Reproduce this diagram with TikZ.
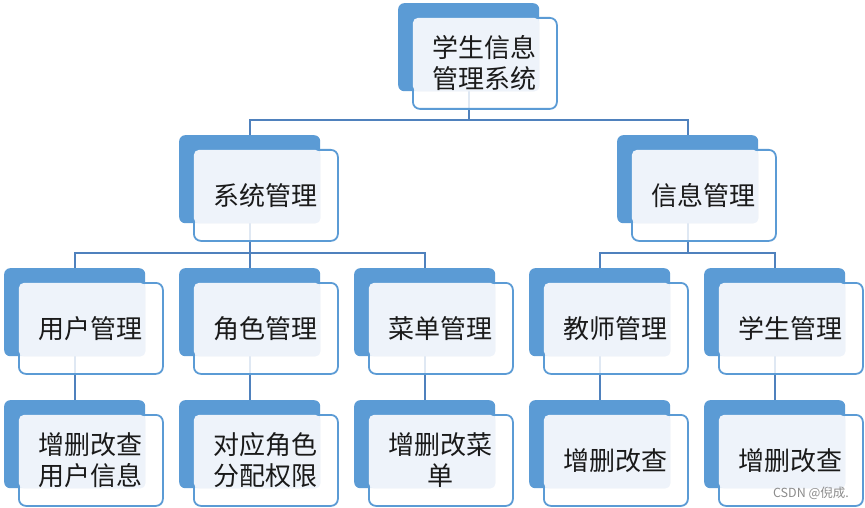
\documentclass[tikz,border=0pt]{standalone}
\usepackage{fontspec}
\newfontfamily\cjk{Noto Sans CJK SC}
\usetikzlibrary{backgrounds}
\definecolor{backblue}{HTML}{5B9BD5}
\definecolor{lightfill}{HTML}{EEF3FA}
\definecolor{connblue}{HTML}{4F81BD}
\definecolor{txtcol}{HTML}{1A1A1A}
\tikzset{
  backbox/.style={draw=none, fill=backblue, rounded corners=6pt, minimum width=141pt, minimum height=88pt, inner sep=0pt, anchor=north west},
  frontbox/.style={draw=backblue, line width=1.8pt, fill=white, fill opacity=0.82, rounded corners=7pt, minimum width=144pt, minimum height=91pt, inner sep=0pt, anchor=north west},
  lighttop/.style={fill=lightfill, rounded corners=5pt},
  boxtext/.style={font=\cjk\fontsize{26}{31}\selectfont, text=txtcol, align=center, inner sep=0pt},
  connector/.style={draw=connblue, line width=1.6pt},
  watermark/.style={font=\cjk\fontsize{12.5}{14}\selectfont, text=black!45, inner sep=0pt}
}
\newcommand{\orgbox}[4]{%
  \node[backbox] (#1-b) at (#2,#3) {};
  \node[frontbox] (#1) at (#2+14,#3+14) {};
  \fill[lighttop] ([shift={(0.9pt,-0.9pt)}]#1.north west) rectangle (#1-b.south east);
  \node[boxtext] (#1-t) at (#1.center) {#4};
}
\begin{document}
\begin{tikzpicture}[x=1pt,y=-1pt]
\useasboundingbox (0,0) rectangle (865,508);
\orgbox{top}{398}{3}{学生信息\\管理系统}
\orgbox{sys}{179}{135}{系统管理}
\orgbox{info}{617}{135}{信息管理}
\orgbox{user}{4}{268}{用户管理}
\orgbox{role}{179}{268}{角色管理}
\orgbox{menu}{354}{268}{菜单管理}
\orgbox{teach}{529}{268}{教师管理}
\orgbox{stud}{704}{268}{学生管理}
\orgbox{userop}{4}{400}{增删改查\\用户信息}
\orgbox{roleop}{179}{400}{对应角色\\分配权限}
\orgbox{menuop}{354}{400}{增删改菜\\单}
\orgbox{teachop}{529}{400}{增删改查}
\orgbox{studop}{704}{400}{增删改查}
\coordinate (bus1) at (0,120);
\coordinate (bus2) at (0,253);
\begin{pgfonlayer}{background}
  \fill[white] (0,0) rectangle (865,508);
  \draw[connector] (top-b.center) -- (top-b.center |- bus1) -| (sys-b.center);
  \draw[connector] (top-b.center |- bus1) -| (info-b.center);
  \draw[connector] (sys-b.center) -- (sys-b.center |- bus2) -| (user-b.center);
  \draw[connector] (sys-b.center |- bus2) -- (role-b.center);
  \draw[connector] (sys-b.center |- bus2) -| (menu-b.center);
  \draw[connector] (info-b.center) -- (info-b.center |- bus2) -| (teach-b.center);
  \draw[connector] (info-b.center |- bus2) -| (stud-b.center);
  \draw[connector] (user-b.center) -- (userop-b.center);
  \draw[connector] (role-b.center) -- (roleop-b.center);
  \draw[connector] (menu-b.center) -- (menuop-b.center);
  \draw[connector] (teach-b.center) -- (teachop-b.center);
  \draw[connector] (stud-b.center) -- (studop-b.center);
\end{pgfonlayer}
\node[watermark] (wm) at (811,493) {CSDN @倪成.};
\end{tikzpicture}
\end{document}
